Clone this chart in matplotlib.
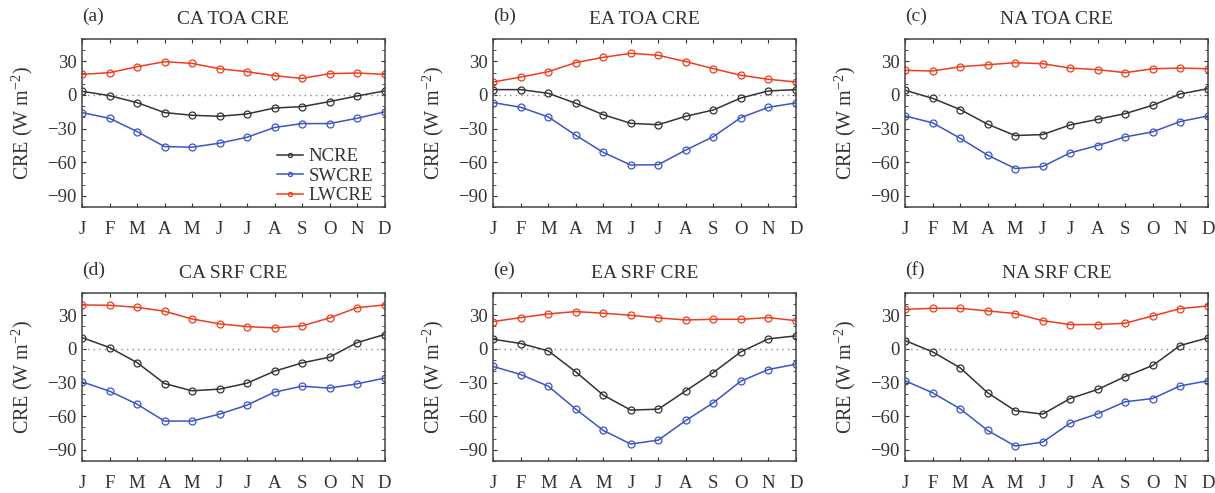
import numpy as np
import matplotlib
matplotlib.use('Agg')
from matplotlib import pyplot as plt
from matplotlib.ticker import MultipleLocator

plt.rcParams['font.family'] = ['Liberation Serif', 'DejaVu Serif']
plt.rcParams['mathtext.fontset'] = 'custom'
plt.rcParams['mathtext.rm'] = 'Liberation Serif'

months = ['J', 'F', 'M', 'A', 'M', 'J', 'J', 'A', 'S', 'O', 'N', 'D']
panel_labels = ['(a)', '(b)', '(c)', '(d)', '(e)', '(f)']
titles = ['CA TOA CRE', 'EA TOA CRE', 'NA TOA CRE',
          'CA SRF CRE', 'EA SRF CRE', 'NA SRF CRE']

# NCRE / SWCRE / LWCRE for each panel (W m-2)
ncre_ca_toa = [3.3, -0.6, -6.8, -15.7, -18.1, -19.0, -16.9, -11.6, -10.4, -5.9, -0.9, 3.6]
swcre_ca_toa = [-15.7, -20.8, -32.6, -46.0, -46.6, -43.0, -37.7, -29.0, -25.5, -25.5, -20.8, -15.1]
lwcre_ca_toa = [18.4, 19.9, 25.2, 29.7, 28.2, 23.4, 20.8, 17.2, 14.8, 19.0, 19.6, 18.4]

ncre_ea_toa = [4.8, 4.8, 1.5, -7.4, -17.6, -25.3, -26.5, -19.0, -13.4, -2.7, 3.6, 4.8]
swcre_ea_toa = [-6.8, -11.0, -19.6, -36.0, -51.2, -62.5, -62.2, -49.1, -37.2, -20.2, -11.0, -7.1]
lwcre_ea_toa = [11.6, 16.0, 20.8, 28.9, 33.6, 37.2, 35.4, 29.8, 23.5, 17.6, 14.0, 11.6]

ncre_na_toa = [4.2, -3.0, -13.0, -26.1, -36.2, -35.3, -26.7, -21.7, -16.6, -9.2, 0.9, 5.6]
swcre_na_toa = [-18.7, -24.9, -38.6, -53.7, -65.6, -63.8, -51.6, -45.1, -37.4, -32.9, -23.7, -18.7]
lwcre_na_toa = [22.0, 21.4, 25.2, 27.0, 28.8, 27.9, 24.0, 22.6, 19.9, 23.4, 24.0, 23.4]

ncre_ca_srf = [10.1, 1.2, -12.2, -30.9, -37.4, -35.9, -30.6, -19.9, -12.5, -7.4, 5.6, 12.8]
swcre_ca_srf = [-29.4, -37.7, -49.3, -64.4, -64.4, -58.2, -50.2, -38.6, -33.3, -35.0, -31.2, -26.1]
lwcre_ca_srf = [39.2, 38.9, 37.1, 33.6, 26.7, 22.3, 19.9, 18.7, 20.5, 27.6, 36.8, 39.2]

ncre_ea_srf = [8.6, 4.8, -1.8, -20.5, -41.3, -54.6, -53.8, -37.4, -21.1, -2.7, 8.9, 11.6]
swcre_ea_srf = [-15.7, -22.9, -33.3, -53.8, -72.8, -84.9, -81.4, -63.9, -48.1, -28.8, -18.4, -13.7]
lwcre_ea_srf = [24.4, 27.9, 31.2, 33.3, 31.8, 30.0, 27.6, 25.8, 26.4, 26.4, 27.9, 25.2]

ncre_na_srf = [7.4, -2.7, -16.9, -39.2, -55.2, -58.2, -44.3, -36.2, -24.7, -14.8, 3.0, 9.8]
swcre_na_srf = [-28.5, -39.2, -53.5, -72.8, -86.7, -83.2, -66.2, -57.9, -47.2, -44.3, -33.0, -28.5]
lwcre_na_srf = [35.3, 36.2, 36.2, 33.9, 31.5, 25.2, 21.7, 21.7, 22.9, 29.4, 35.9, 38.3]

panels = [
    (ncre_ca_toa, swcre_ca_toa, lwcre_ca_toa),
    (ncre_ea_toa, swcre_ea_toa, lwcre_ea_toa),
    (ncre_na_toa, swcre_na_toa, lwcre_na_toa),
    (ncre_ca_srf, swcre_ca_srf, lwcre_ca_srf),
    (ncre_ea_srf, swcre_ea_srf, lwcre_ea_srf),
    (ncre_na_srf, swcre_na_srf, lwcre_na_srf),
]

colors = ['#333333', '#3b55c4', '#f03c1e']
names = ['NCRE', 'SWCRE', 'LWCRE']
txt = '#333333'

fig = plt.figure(figsize=(12.15, 4.93), dpi=100)
lefts = [0.0675, 0.406, 0.745]
bottoms = [0.580, 0.065]
w, h = 0.249, 0.341
x = np.arange(1, 13)

for i, (series, lab, title) in enumerate(zip(panels, panel_labels, titles)):
    ax = fig.add_axes([lefts[i % 3], bottoms[i // 3], w, h])
    ax.axhline(0, color='#888888', lw=1, ls=(0, (1, 3)))
    for vals, c, n in zip(series, colors, names):
        ax.plot(x, vals, color=c, lw=1.1, marker='o', ms=5, mfc='none',
                mec=c, mew=0.9, label=n)
    ax.set_xlim(1, 12)
    ax.set_ylim(-100, 50)
    ax.set_xticks(x)
    ax.set_xticklabels(months)
    ax.set_yticks([-90, -60, -30, 0, 30])
    ax.set_yticklabels(['\u221290', '\u221260', '\u221230', '0', '30'])
    ax.yaxis.set_minor_locator(MultipleLocator(10))
    ax.tick_params(which='both', direction='in', top=True, right=True,
                   colors=txt, labelsize=13.5)
    ax.tick_params(axis='x', which='major', length=3, pad=10)
    ax.tick_params(axis='y', which='major', length=3, pad=4)
    ax.tick_params(axis='y', which='minor', length=2)
    for s in ax.spines.values():
        s.set_color('#444444')
        s.set_linewidth(1.1)
    ax.set_ylabel('CRE (W m$^{-2}$)', fontsize=14.5, color=txt, labelpad=9)
    ax.set_title(title, fontsize=14, color=txt, pad=11)
    ax.text(0.0, 1.085, lab, transform=ax.transAxes, fontsize=14, color=txt,
            ha='left', va='bottom')
    if i == 0:
        ax.legend(loc='lower right', bbox_to_anchor=(1.0, -0.05), frameon=False,
                  fontsize=13.5, handlelength=1.4, handletextpad=0.3,
                  labelspacing=0.12, borderaxespad=0.2, markerscale=0.6,
                  labelcolor=txt)

fig.savefig('out.png', dpi=100)
